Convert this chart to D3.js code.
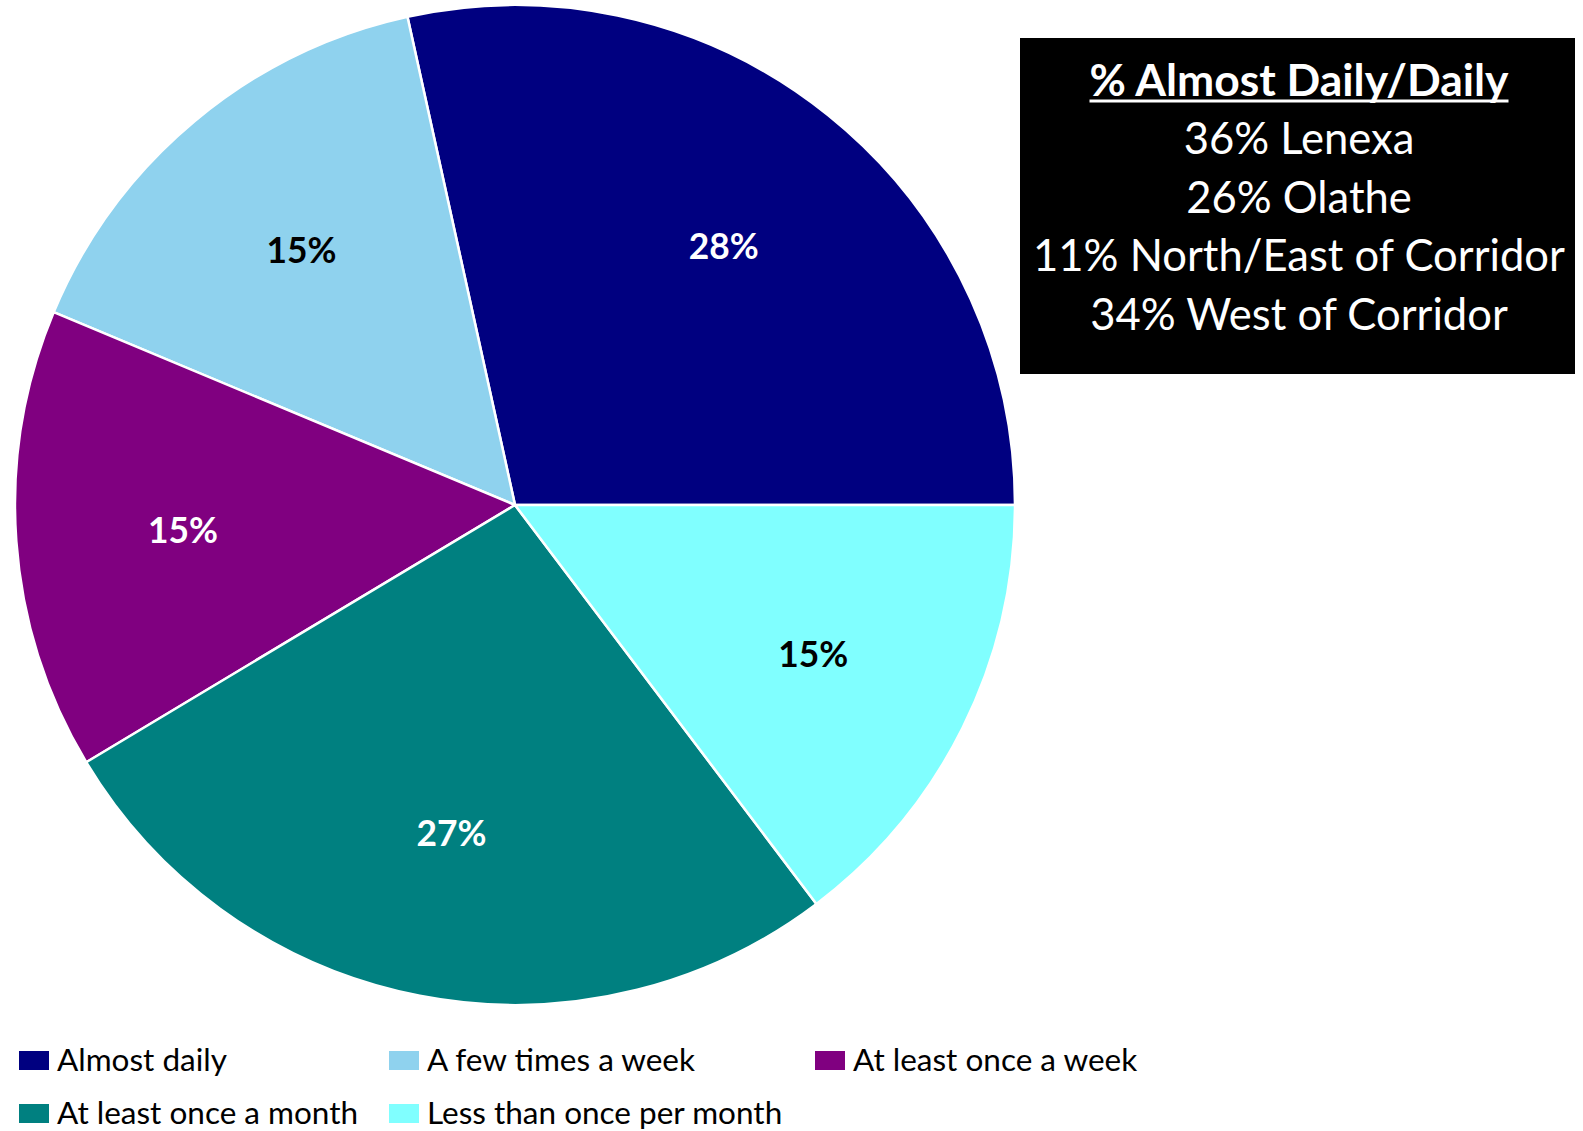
<!DOCTYPE html>
<html>
<head>
<meta charset="utf-8">
<script src="https://cdnjs.cloudflare.com/ajax/libs/d3/7.8.5/d3.min.js"></script>
<style>
  body { margin: 0; background: #fff; }
  svg { display: block; font-family: Lato, "Open Sans", sans-serif; }
</style>
</head>
<body>
<svg id="chart" width="1583" height="1131"></svg>
<script>
// data
var categories = ["Almost daily", "A few times a week", "At least once a week", "At least once a month", "Less than once per month"];
var values = [28.45, 15.25, 14.9, 26.7, 14.7];
var colors = ["#000080", "#8fd2ee", "#800080", "#008080", "#80ffff"];
var labelColors = ["#fff", "#000", "#fff", "#fff", "#000"];
var boxTitle = "% Almost Daily/Daily";
var boxLines = ["36% Lenexa", "26% Olathe", "11% North/East of Corridor", "34% West of Corridor"];

var svg = d3.select("#chart");
var cx = 515, cy = 505, r = 500;

// scale font-size so the text spans the given width
function fit(t, w){
  var fs = parseFloat(t.attr("font-size"));
  var cur = t.node().getComputedTextLength();
  t.attr("font-size", fs * w / cur);
  return fs * w / cur;
}

var pie = d3.pie().sort(null).value(function(d){ return d; })
  .startAngle(Math.PI/2).endAngle(Math.PI/2 - 2*Math.PI);
var arcs = pie(values);
var arc = d3.arc().innerRadius(0).outerRadius(r);
var labelArc = d3.arc().innerRadius(333).outerRadius(333);

var g = svg.append("g").attr("transform","translate("+cx+","+cy+")");
g.selectAll("path").data(arcs).enter().append("path")
  .attr("d", arc)
  .attr("fill", function(d,i){ return colors[i]; })
  .attr("stroke", "#fff")
  .attr("stroke-width", 2.5)
  .attr("stroke-linejoin", "round");

var lbls = g.selectAll("text.lbl").data(arcs).enter().append("text")
  .attr("class","lbl")
  .attr("transform", function(d){ var c = labelArc.centroid(d); return "translate("+c[0]+","+(c[1]+14)+")"; })
  .attr("text-anchor","middle")
  .attr("font-weight","bold")
  .attr("font-size", 40)
  .attr("fill", function(d,i){ return labelColors[i]; })
  .text(function(d){ return Math.round(d.data) + "%"; });
var lfs = fit(d3.select(lbls.nodes()[1]), 70);
lbls.attr("font-size", lfs);

// black info box
var bx = 1020, by = 38, bw = 555, bh = 336;
svg.append("rect").attr("x",bx).attr("y",by).attr("width",bw).attr("height",bh).attr("fill","#000");
var mid = 1299;
var title = svg.append("text").attr("x",mid).attr("y",96).attr("text-anchor","middle")
  .attr("fill","#fff").attr("font-weight","bold").attr("font-size",40).text(boxTitle);
fit(title, 419);
svg.append("line").attr("x1", mid-209.5).attr("x2", mid+209.5).attr("y1",101).attr("y2",101)
  .attr("stroke","#fff").attr("stroke-width",3);
var lines = svg.selectAll("text.bl").data(boxLines).enter().append("text")
  .attr("class","bl")
  .attr("x", mid).attr("y", function(d,i){ return 154 + i*58.6; })
  .attr("text-anchor","middle").attr("fill","#fff").attr("font-size",40)
  .text(function(d){ return d; });
var bfs = fit(d3.select(lines.nodes()[2]), 532);
lines.attr("font-size", bfs);

// legend
var legX = [19, 389, 815], legY = [1051, 1104];
var leg = svg.selectAll("g.leg").data(categories).enter().append("g")
  .attr("class","leg")
  .attr("transform", function(d,i){ return "translate("+legX[i%3]+","+legY[Math.floor(i/3)]+")"; });
leg.append("rect").attr("width",30).attr("height",19)
  .attr("fill", function(d,i){ return colors[i]; });
var legText = leg.append("text").attr("x",38).attr("y",20)
  .attr("font-size",29).attr("fill","#000")
  .text(function(d){ return d; });
var gfs = fit(d3.select(legText.nodes()[0]), 170);
legText.attr("font-size", gfs);
</script>
</body>
</html>
